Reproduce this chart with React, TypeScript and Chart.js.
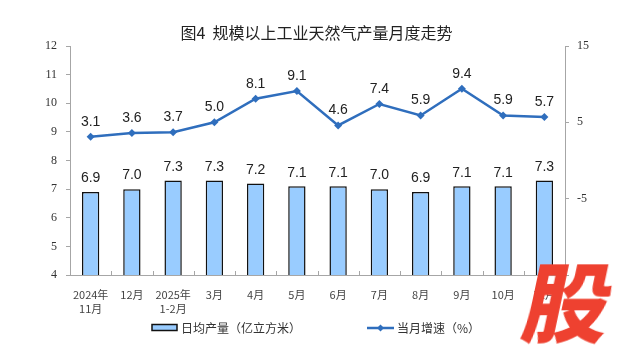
import React, { useEffect, useRef } from "react";
import { Chart, registerables } from "chart.js";

Chart.register(...registerables);

const titleText = "图4  规模以上工业天然气产量月度走势";
const categories: (string | string[])[] = [
  ["2024年", "11月"], "12月", ["2025年", "1-2月"], "3月", "4月", "5月",
  "6月", "7月", "8月", "9月", "10月", "11月",
];
const dailyOutput = [6.9, 7.0, 7.3, 7.3, 7.2, 7.1, 7.1, 7.0, 6.9, 7.1, 7.1, 7.3];
const growthRate = [3.1, 3.6, 3.7, 5.0, 8.1, 9.1, 4.6, 7.4, 5.9, 9.4, 5.9, 5.7];
const leftAxisRange = [4, 12];
const rightAxisRange = [-15, 15];
const rightTickLabels = [15, 5, -5];
const barLegend = "日均产量（亿立方米）";
const lineLegend = "当月增速（%）";

const BAR_FILL = "#99CCFF";
const LINE_COLOR = "#2F6EBD";
const AXIS_COLOR = "#A6A6A6";
const CJK = "'Noto Sans CJK SC', 'Noto Sans', sans-serif";

const overlayPlugin = {
  id: "overlay",
  afterDatasetsDraw(chart: any) {
    const ctx = chart.ctx as CanvasRenderingContext2D;
    const area = chart.chartArea;
    const x = chart.scales.x;
    ctx.save();
    // inner category tick marks
    ctx.strokeStyle = AXIS_COLOR;
    ctx.lineWidth = 1;
    const n = categories.length;
    for (let i = 1; i < n; i++) {
      const px = Math.round((x.getPixelForValue(i - 1) + x.getPixelForValue(i)) / 2) + 0.5;
      ctx.beginPath();
      ctx.moveTo(px, area.bottom);
      ctx.lineTo(px, area.bottom - 4);
      ctx.stroke();
    }
    // data labels
    ctx.fillStyle = "#222";
    ctx.font = "14px 'Liberation Sans', Arial, sans-serif";
    ctx.textAlign = "center";
    ctx.textBaseline = "middle";
    const barMeta = chart.getDatasetMeta(0);
    barMeta.data.forEach((el: any, i: number) => {
      ctx.fillText(dailyOutput[i].toFixed(1), el.x, el.y - 13.5);
    });
    const lineMeta = chart.getDatasetMeta(1);
    lineMeta.data.forEach((el: any, i: number) => {
      ctx.fillText(growthRate[i].toFixed(1), el.x, el.y - 15);
    });
    // title
    ctx.fillStyle = "#222";
    ctx.font = `16px ${CJK}`;
    ctx.fillText(titleText, 316.5, 33);
    // legend
    ctx.fillStyle = BAR_FILL;
    ctx.strokeStyle = "#111";
    ctx.lineWidth = 1.5;
    ctx.fillRect(152, 324.5, 25, 6);
    ctx.strokeRect(152, 324.5, 25, 6);
    ctx.fillStyle = "#333";
    ctx.font = `12px ${CJK}`;
    ctx.textAlign = "left";
    ctx.fillText(barLegend, 181, 328);
    ctx.strokeStyle = LINE_COLOR;
    ctx.lineWidth = 2.5;
    ctx.beginPath();
    ctx.moveTo(367, 328);
    ctx.lineTo(394, 328);
    ctx.stroke();
    ctx.fillStyle = LINE_COLOR;
    ctx.beginPath();
    ctx.moveTo(380.5, 324.5);
    ctx.lineTo(384, 328);
    ctx.lineTo(380.5, 331.5);
    ctx.lineTo(377, 328);
    ctx.closePath();
    ctx.fill();
    ctx.fillStyle = "#333";
    ctx.fillText(lineLegend, 397, 328);
    ctx.restore();
  },
};

export default function App() {
  const canvasRef = useRef<HTMLCanvasElement | null>(null);

  useEffect(() => {
    document.body.style.margin = "0";
    const canvas = canvasRef.current;
    if (!canvas) return;
    const chart = new Chart(canvas, {
      type: "bar",
      data: {
        labels: categories as any,
        datasets: [
          {
            type: "bar",
            label: barLegend,
            data: dailyOutput,
            backgroundColor: BAR_FILL,
            borderColor: "#111",
            borderWidth: 1.5,
            borderSkipped: "bottom",
            barPercentage: 0.42,
            categoryPercentage: 1,
            yAxisID: "y",
            order: 2,
          },
          {
            type: "line",
            label: lineLegend,
            data: growthRate,
            borderColor: LINE_COLOR,
            backgroundColor: LINE_COLOR,
            borderWidth: 2.5,
            pointStyle: "rectRot",
            pointRadius: 4,
            pointBorderWidth: 0,
            tension: 0,
            yAxisID: "y1",
            order: 1,
          } as any,
        ],
      },
      options: {
        responsive: true,
        maintainAspectRatio: false,
        animation: false,
        layout: { padding: { top: 46, left: 0, right: 0, bottom: 0 } },
        plugins: {
          legend: { display: false },
          title: { display: false },
          tooltip: { enabled: false },
        },
        scales: {
          x: {
            offset: true,
            grid: { display: false },
            border: { display: true, color: AXIS_COLOR, width: 1 },
            ticks: {
              color: "#444",
              font: { family: CJK, size: 11, lineHeight: 1.27 },
              padding: 5,
              maxRotation: 0,
              autoSkip: false,
            },
            afterFit: (s: any) => { s.height = 81; },
          },
          y: {
            position: "left",
            min: leftAxisRange[0],
            max: leftAxisRange[1],
            grid: { drawOnChartArea: false, drawTicks: true, tickLength: 4, color: AXIS_COLOR },
            border: { display: true, color: AXIS_COLOR, width: 1 },
            ticks: {
              stepSize: 1,
              color: "#333",
              padding: 9,
              font: { family: "'Liberation Serif', 'Times New Roman', serif", size: 12 },
            },
            afterFit: (s: any) => { s.width = 70; },
          },
          y1: {
            position: "right",
            min: rightAxisRange[0],
            max: rightAxisRange[1],
            grid: { drawOnChartArea: false, drawTicks: true, tickLength: 4, color: AXIS_COLOR },
            border: { display: true, color: AXIS_COLOR, width: 1 },
            ticks: {
              stepSize: 10,
              color: "#333",
              padding: 8,
              font: { family: "'Liberation Serif', 'Times New Roman', serif", size: 12 },
              callback: (v: any) => (rightTickLabels.includes(Number(v)) ? String(v) : ""),
            },
            afterFit: (s: any) => { s.width = 74; },
          },
        },
      },
      plugins: [overlayPlugin],
    });
    return () => chart.destroy();
  }, []);

  return (
    <div style={{ position: "fixed", left: 0, top: 0, width: 639, height: 356, background: "#fff" }}>
      <canvas ref={canvasRef} />
      <div
        style={{
          position: "absolute",
          left: 527,
          top: 248,
          fontFamily: CJK,
          fontWeight: 900,
          fontSize: 86,
          lineHeight: "100px",
          color: "#EE4130",
          transform: "skewX(-12deg)",
          pointerEvents: "none",
        }}
      >
        股
      </div>
    </div>
  );
}
